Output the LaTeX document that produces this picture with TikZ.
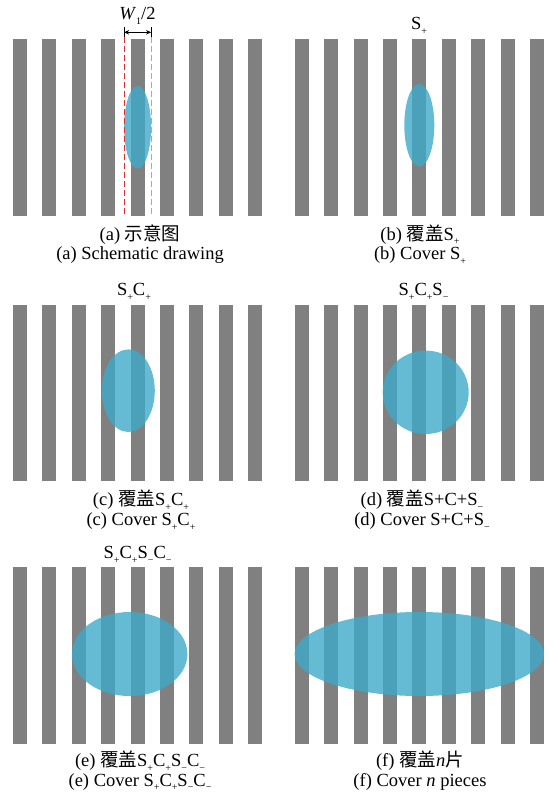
\documentclass[tikz,border=0pt]{standalone}
\usepackage{fontspec}
\setmainfont{Liberation Serif}
\newfontfamily\cjk{Noto Sans CJK SC}
\usetikzlibrary{arrows.meta}
\definecolor{barcol}{RGB}{128,128,128}
\definecolor{spot}{RGB}{61,170,200}
\definecolor{dashred}{RGB}{225,45,45}
\definecolor{dashpink}{RGB}{242,140,140}
\newcommand\lo[1]{\raisebox{-0.26em}{\fontsize{10}{10}\selectfont #1}}
\begin{document}
\begin{tikzpicture}[x=1pt,y=-1pt,
  lbl/.style={anchor=base, inner sep=0pt, font=\fontsize{18.5}{22}\selectfont},
  spotfill/.style={fill=spot, fill opacity=0.8},
  bar/.style={fill=barcol},
  guide/.style={line width=0.9pt, dash pattern=on 6pt off 3pt}]
\useasboundingbox (0,0) rectangle (553,792);
% grating bars
\foreach \x in {13,294.7} \foreach \y in {39,304.7,567.3} \foreach \i in {0,...,8}
  \fill[bar] (\x+\i*29.4,\y) rectangle ++(14,176.5);
% covering spots
\fill[spotfill] (137.6,127.3) ellipse [x radius=13.5pt, y radius=41.3pt];
\fill[spotfill] (419.3,125.3) ellipse [x radius=15pt, y radius=41.3pt];
\fill[spotfill] (128.3,390.7) ellipse [x radius=26.5pt, y radius=41.3pt];
\fill[spotfill] (425.7,392.3) ellipse [x radius=43pt, y radius=41.7pt];
\fill[spotfill] (129.7,654) ellipse [x radius=57.7pt, y radius=42pt];
\fill[spotfill] (419.3,654) ellipse [x radius=124.7pt, y radius=42pt];
% W1/2 dimension in (a)
\coordinate (tl0) at (124.1,27);
\coordinate (tl1) at (124.1,37);
\coordinate (tr0) at (151.1,27);
\coordinate (tr1) at (151.1,37);
\coordinate (dl) at (124.1,216);
\coordinate (dr) at (151.1,216);
\coordinate (al) at (124.1,32.3);
\coordinate (ar) at (151.1,32.3);
\draw[line width=0.9pt] (tl0) -- (tl1);
\draw[line width=0.9pt] (tr0) -- (tr1);
\draw[line width=0.9pt, {Stealth[length=5pt,width=4.5pt]}-{Stealth[length=5pt,width=4.5pt]}] (al) -- (ar);
\draw[guide, dashred] (tl1) -- (dl);
\draw[guide, dashpink] (tr1) -- (dr);
\node[lbl] (w) at (137.5,20) {\textit{W}\lo{1}/2};
% top labels
\node[lbl] (tb) at (419,30) {S\lo{+}};
\node[lbl] (tc) at (134,295.7) {S\lo{+}C\lo{+}};
\node[lbl] (td) at (423.5,295.7) {S\lo{+}C\lo{+}S\lo{−}};
\node[lbl] (te) at (137.6,558.3) {S\lo{+}C\lo{+}S\lo{−}C\lo{−}};
% captions
\node[lbl] (ca1) at (140,240) {(a) {\cjk 示意图}};
\node[lbl] (ca2) at (140,259) {(a) Schematic drawing};
\node[lbl] (cb1) at (420,240) {(b) {\cjk 覆盖}S\lo{+}};
\node[lbl] (cb2) at (420,259.5) {(b) Cover S\lo{+}};
\node[lbl] (cc1) at (141,505.7) {(c) {\cjk 覆盖}S\lo{+}C\lo{+}};
\node[lbl] (cc2) at (141,525.5) {(c) Cover S\lo{+}C\lo{+}};
\node[lbl] (cd1) at (422,505.7) {(d) {\cjk 覆盖}S+C+S\lo{−}};
\node[lbl] (cd2) at (422,525.5) {(d) Cover S+C+S\lo{−}};
\node[lbl] (ce1) at (140,766.5) {(e) {\cjk 覆盖}S\lo{+}C\lo{+}S\lo{−}C\lo{−}};
\node[lbl] (ce2) at (140,786) {(e) Cover S\lo{+}C\lo{+}S\lo{−}C\lo{−}};
\node[lbl] (cf1) at (420,766.5) {(f) {\cjk 覆盖}\textit{n}{\cjk 片}};
\node[lbl] (cf2) at (420,786) {(f) Cover \textit{n} pieces};
\end{tikzpicture}
\end{document}
